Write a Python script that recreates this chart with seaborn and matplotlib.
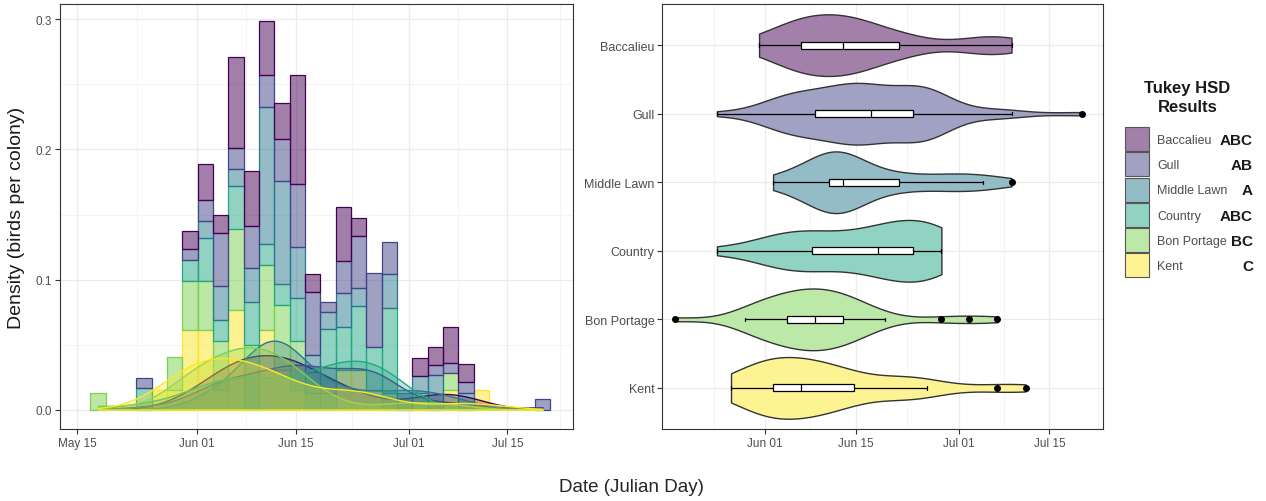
import numpy as np
import pandas as pd
import matplotlib
matplotlib.use("Agg")
import matplotlib.pyplot as plt
from matplotlib.patches import Patch
import seaborn as sns

# Colonies (ggplot factor order) and Tukey HSD letters
colonies = ["Baccalieu", "Gull", "Middle Lawn", "Country", "Bon Portage", "Kent"]
tukey_letters = ["ABC", "AB", "A", "ABC", "BC", "C"]

# Histogram layout of the left panel: 30 bins centred on the first and last day
first_day = 138   # May 18
last_day = 201    # Jul 20
n_bins = 30

# Birds counted in each of the 30 bins, per colony
baccalieu = [0, 0, 0, 0, 0, 0, 1, 2, 1, 5, 3, 3, 2, 6, 1, 0, 3, 1, 0, 0, 0, 1, 1, 2, 1, 0, 0, 0, 0, 0]
gull = [0, 0, 0, 1, 0, 0, 1, 2, 5, 2, 4, 3, 4, 6, 6, 1, 3, 5, 7, 3, 0, 0, 1, 1, 1, 0, 0, 0, 0, 1]
middle_lawn = [0, 0, 0, 0, 0, 0, 0, 1, 2, 1, 2, 8, 6, 3, 1, 1, 2, 1, 0, 2, 1, 1, 2, 0, 1, 0, 0, 0, 0, 0]
country = [0, 0, 0, 1, 0, 0, 1, 2, 1, 2, 2, 1, 1, 2, 1, 3, 2, 3, 2, 4, 0, 0, 0, 0, 0, 0, 0, 0, 0, 0]
bon_portage = [1, 0, 0, 0, 0, 2, 3, 3, 3, 5, 4, 4, 4, 3, 1, 1, 0, 0, 0, 1, 0, 1, 0, 1, 0, 0, 0, 0, 0, 0]
kent = [0, 0, 0, 0, 1, 1, 4, 4, 1, 5, 0, 4, 2, 1, 0, 0, 2, 2, 1, 0, 0, 0, 0, 1, 0, 1, 0, 0, 0, 0]

# Axis ticks
date_ticks = ["2023-05-15", "2023-06-01", "2023-06-15", "2023-07-01", "2023-07-15"]
date_labels = ["May 15", "Jun 01", "Jun 15", "Jul 01", "Jul 15"]
density_ticks = [0.0, 0.1, 0.2, 0.3]

# Build one row per bird
bin_width = (last_day - first_day) / (n_bins - 1)
centres = np.linspace(first_day, last_day, n_bins)
edges = np.linspace(first_day - bin_width / 2, last_day + bin_width / 2, n_bins + 1)
counts = [baccalieu, gull, middle_lawn, country, bon_portage, kent]
df = pd.concat([pd.DataFrame({"colony": name, "day": np.repeat(centres, c)})
                for name, c in zip(colonies, counts)], ignore_index=True)

tick_days = [pd.Timestamp(d).dayofyear for d in date_ticks]
minor_days = [(a + b) / 2 for a, b in zip(tick_days[:-1], tick_days[1:])]

# viridis like ggplot's scale_fill_viridis_d, blended on white for the violins
viridis = [tuple(c[:3]) for c in plt.get_cmap("viridis")(np.linspace(0, 1, len(colonies)))]
pal = dict(zip(colonies, viridis))
soft = {k: tuple(0.5 * np.array(v) + 0.5) for k, v in pal.items()}

sns.set_theme(style="white")
plt.rcParams["font.family"] = ["Liberation Sans", "DejaVu Sans"]

fig = plt.figure(figsize=(12.66, 5.02), dpi=100)
ax1 = fig.add_axes([0.0474, 0.1434, 0.4052, 0.8466])
ax2 = fig.add_axes([0.5229, 0.1434, 0.3483, 0.8466])

# ---- left: stacked density histogram + per-colony density curves
sns.histplot(df, x="day", hue="colony", hue_order=colonies, palette=pal,
             multiple="stack", stat="density", common_norm=False, bins=edges,
             alpha=0.5, linewidth=0.9, legend=False, ax=ax1)
for p in ax1.patches:
    fc = p.get_facecolor()
    p.set_edgecolor((fc[0], fc[1], fc[2], 1.0))
    if p.get_height() == 0:
        p.set_visible(False)

# reversed so Kent ends up drawn on top, as in ggplot
sns.kdeplot(df, x="day", hue="colony", hue_order=colonies[::-1], palette=pal, fill=True,
            common_norm=False, common_grid=True, cut=0, bw_adjust=0.85,
            alpha=0.28, linewidth=1.0, legend=False, ax=ax1)

ax1.set_xticks(tick_days)
ax1.set_xticklabels(date_labels)
ax1.set_xticks(minor_days + [203.5], minor=True)
ax1.set_yticks(density_ticks)
ax1.set_yticklabels([f"{t:.1f}" for t in density_ticks])
ax1.set_yticks([0.05, 0.15, 0.25], minor=True)
ax1.set_xlim(132.6, 205.3)
ax1.set_ylim(-0.0149, 0.3118)
ax1.set_xlabel("")
ax1.set_ylabel("Density (birds per colony)", fontsize=14, color="#1a1a1a", labelpad=8)

# ---- right: violins with boxplots
sns.violinplot(df, x="day", y="colony", hue="colony", order=colonies, hue_order=colonies,
               palette=soft, saturation=1, inner=None, cut=0, bw_adjust=0.85,
               density_norm="area", width=0.9, linewidth=1.0, linecolor="#333333",
               legend=False, ax=ax2)
sns.boxplot(df, x="day", y="colony", order=colonies, width=0.1, color="white",
            saturation=1, linecolor="black", linewidth=0.9, fliersize=4,
            flierprops={"marker": "o", "markerfacecolor": "black", "markeredgecolor": "black"},
            ax=ax2)
ax2.set_xticks(tick_days[1:])
ax2.set_xticklabels(date_labels[1:])
ax2.set_xticks(minor_days[1:] + [144, 203.5], minor=True)
ax2.set_xlim(136.0, 204.3)
ax2.set_ylim(5.6, -0.6)
ax2.set_xlabel("")
ax2.set_ylabel("")

for ax in (ax1, ax2):
    ax.set_axisbelow(True)
    ax.grid(which="major", color="#ebebeb", linewidth=0.9)
    ax.grid(which="minor", color="#f2f2f2", linewidth=0.6)
    ax.tick_params(which="major", length=3.5, width=0.8, color="#333333",
                   labelsize=8.5, labelcolor="#4d4d4d", pad=2, bottom=True, left=True)
    ax.tick_params(which="minor", length=0)
    for s in ax.spines.values():
        s.set_visible(True)
        s.set_color("#333333")
        s.set_linewidth(0.8)
ax2.tick_params(axis="y", labelsize=9)

fig.text(0.4984, 0.028, "Date (Julian Day)", ha="center", va="center",
         fontsize=13.5, color="#262626")

# ---- legend with Tukey letters
handles = [Patch(facecolor=soft[c], edgecolor="#555555", linewidth=0.8) for c in colonies]
leg = fig.legend(handles, colonies, loc="upper left", bbox_to_anchor=(0.8886, 0.745),
                 frameon=False, fontsize=9, handlelength=1.9, handleheight=2.58,
                 labelspacing=0.1, handletextpad=0.7, borderpad=0, borderaxespad=0)
for t in leg.get_texts():
    t.set_color("#4d4d4d")
fig.text(0.938, 0.805, "Tukey HSD\nResults", ha="center", va="center",
         fontsize=12, fontweight="bold", color="#1a1a1a", linespacing=1.35)

fig.canvas.draw()
for t, letters in zip(leg.get_texts(), tukey_letters):
    bb = t.get_window_extent()
    fig.text(0.9897, (bb.y0 + bb.y1) / 2 / fig.bbox.height, letters, ha="right",
             va="center", fontsize=11, fontweight="bold", color="#1a1a1a")

fig.savefig("out.png", dpi=100)
